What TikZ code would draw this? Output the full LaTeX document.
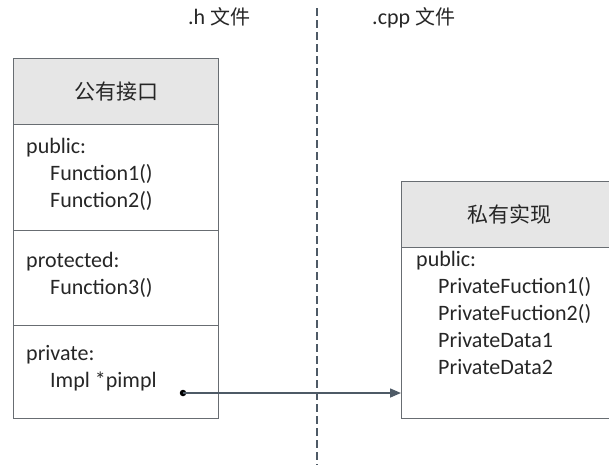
\documentclass[tikz,border=0pt]{standalone}
\usepackage{fontspec}
\setmainfont{Carlito}
\newfontfamily\cjk{Noto Sans CJK SC}
\usetikzlibrary{arrows.meta,calc}
\definecolor{boxline}{HTML}{686D72}
\definecolor{headfill}{HTML}{E6E6E6}
\definecolor{arrowc}{HTML}{4E5A66}
\definecolor{txt}{HTML}{262626}
\tikzset{
  part/.style={draw=boxline, line width=1.4pt, rectangle, anchor=north west, inner sep=0pt},
  head/.style={part, fill=headfill},
  lbl/.style={anchor=mid west, inner sep=0pt, text=txt, font=\fontsize{22}{25}\selectfont},
  cjklbl/.style={inner sep=0pt, text=txt, font=\fontsize{21}{24}\selectfont\cjk},
}
\begin{document}
\begin{tikzpicture}[x=1pt,y=-1pt]
\useasboundingbox (0,0) rectangle (609,464);
\clip (0,0) rectangle (609,464);
% divider
\draw[draw=arrowc, line width=1.4pt, dash pattern=on 8pt off 4pt] (317,8) -- (317,470);
% file labels
\node[lbl] (hfile) at (188,22) {.h {\cjk\fontsize{20}{24}\selectfont 文件}};
\node[lbl] (cppfile) at (372,22) {.cpp {\cjk\fontsize{20}{24}\selectfont 文件}};
% left box
\node[head, minimum width=205pt, minimum height=66pt] (lh) at (13,58) {};
\node[part, minimum width=205pt, minimum height=106pt] (l1) at (13,124) {};
\node[part, minimum width=205pt, minimum height=95pt] (l2) at (13,230) {};
\node[part, minimum width=205pt, minimum height=93pt] (l3) at (13,325) {};
\node[cjklbl] (ltitle) at (lh.center) {公有接口};
\node[lbl] (t1) at (26,151) {public:};
\node[lbl] (t2) at (50,178) {Function1()};
\node[lbl] (t3) at (50,205) {Function2()};
\node[lbl] (t4) at (26,265) {protected:};
\node[lbl] (t5) at (50,292) {Function3()};
\node[lbl] (t6) at (26,358) {private:};
\node[lbl] (t7) at (50,385) {Impl *pimpl};
% right box
\node[head, minimum width=216pt, minimum height=66pt] (rh) at (401,181) {};
\node[part, minimum width=216pt, minimum height=171pt] (impl) at (401,247) {};
\node[cjklbl] (rtitle) at (rh.center) {私有实现};
\node[lbl] (r1) at (416,264) {public:};
\node[lbl] (r2) at (438,291) {PrivateFuction1()};
\node[lbl] (r3) at (438,318) {PrivateFuction2()};
\node[lbl] (r4) at (438,345) {PrivateData1};
\node[lbl] (r5) at (438,372) {PrivateData2};
% pointer
\node[circle, fill=black, inner sep=0pt, minimum size=6.5pt] (dot) at (183,393) {};
\draw[draw=arrowc, line width=1.5pt, -{Triangle[length=11pt,width=9pt]}] (dot.center) -- (impl.west |- dot);
\end{tikzpicture}
\end{document}
